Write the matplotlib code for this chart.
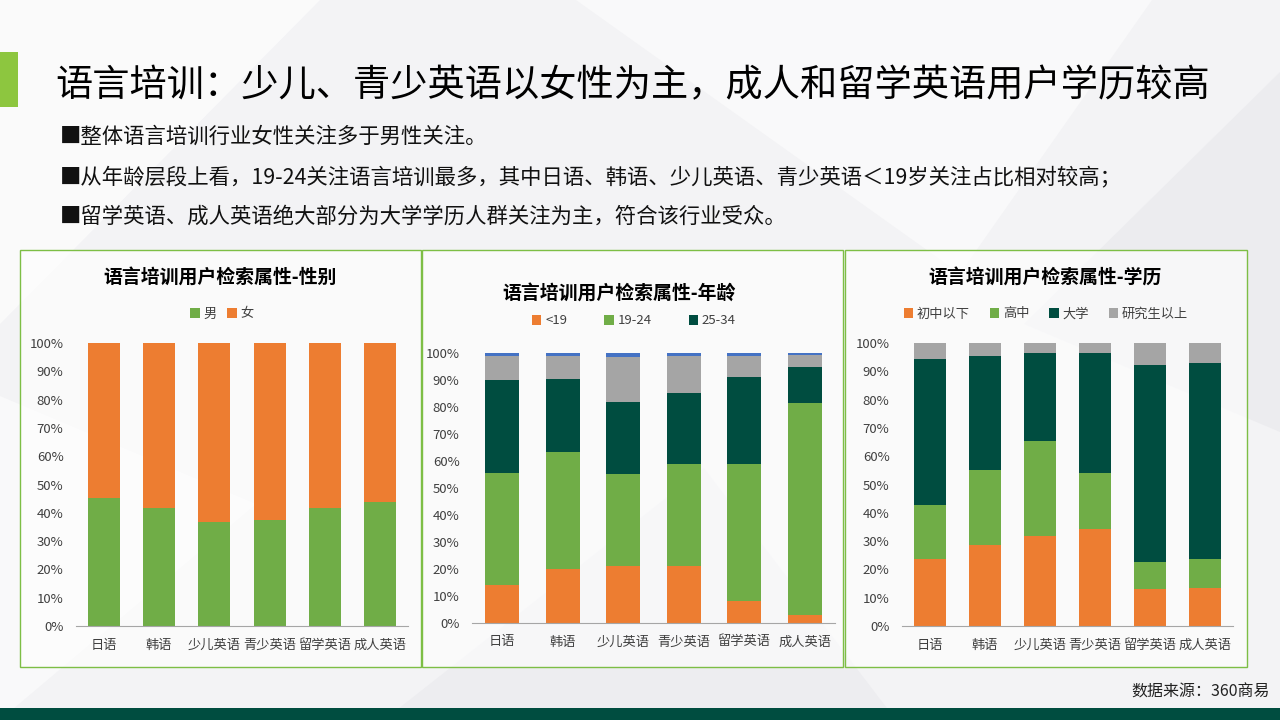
import numpy as np
import matplotlib
matplotlib.use('Agg')
import matplotlib.pyplot as plt
from matplotlib.patches import Rectangle, Polygon, Patch

plt.rcParams['font.family'] = ['Noto Sans CJK SC', 'DejaVu Sans']

categories = ['日语', '韩语', '少儿英语', '青少英语', '留学英语', '成人英语']

# 性别 (%)
male = [45.3, 41.8, 36.8, 37.5, 41.8, 43.9]
female = [54.7, 58.2, 63.2, 62.5, 58.2, 56.1]

# 年龄 (%)
age_u19 = [14.1, 20.0, 21.2, 21.2, 8.1, 3.0]
age_19_24 = [41.5, 43.3, 34.0, 37.7, 50.8, 78.5]
age_25_34 = [34.4, 27.1, 26.7, 26.3, 32.2, 13.3]
age_35_44 = [8.9, 8.5, 16.6, 13.7, 7.8, 4.5]
age_45_up = [1.1, 1.1, 1.5, 1.1, 1.1, 0.7]

# 学历 (%)
edu_junior = [23.6, 28.6, 31.9, 34.2, 13.1, 13.5]
edu_high = [19.1, 26.5, 33.4, 19.8, 9.5, 10.1]
edu_college = [51.5, 40.2, 31.1, 42.4, 69.5, 69.2]
edu_master = [5.8, 4.7, 3.6, 3.6, 7.9, 7.2]

ORANGE = '#ED7D31'
GREEN = '#70AD47'
DARK = '#004D40'
GRAY = '#A5A5A5'
BLUE = '#4472C4'
W, H = 1280, 720


def fx(x):
    return x / W


def fy(y):
    return 1 - y / H


fig = plt.figure(figsize=(12.8, 7.2), dpi=100)
fig.patch.set_facecolor('#F3F3F5')

# faint background facets
for pts, c, a in [
    ([(0, 0.55), (0.25, 1), (0, 1)], 'white', 0.6),
    ([(0.45, 1), (0.75, 0.62), (0.9, 1)], 'white', 0.5),
    ([(0.8, 0.55), (1, 0.9), (1, 0.4)], '#E6E6EA', 0.5),
    ([(0.3, 0.0), (0.55, 0.35), (0.7, 0.0)], '#E9E9ED', 0.6),
    ([(0.0, 0.0), (0.2, 0.3), (0.0, 0.45)], 'white', 0.5),
]:
    fig.patches.append(Polygon(pts, closed=True, transform=fig.transFigure,
                               facecolor=c, alpha=a, edgecolor='none', zorder=-10))

# green accent and bottom bar
fig.patches.append(Rectangle((0, fy(107)), fx(18), 55 / H, transform=fig.transFigure,
                             facecolor='#8DC63F', edgecolor='none', zorder=-5))
fig.patches.append(Rectangle((0, 0), 1, 12 / H, transform=fig.transFigure,
                             facecolor='#004D40', edgecolor='none', zorder=-5))

fig.text(fx(55), fy(86), '语言培训：少儿、青少英语以女性为主，成人和留学英语用户学历较高',
         fontsize=26.8, color='black', va='center', ha='left')
bullets = ['■整体语言培训行业女性关注多于男性关注。',
           '■从年龄层段上看，19-24关注语言培训最多，其中日语、韩语、少儿英语、青少英语＜19岁关注占比相对较高；',
           '■留学英语、成人英语绝大部分为大学学历人群关注为主，符合该行业受众。']
for t, y in zip(bullets, [137, 177, 217]):
    fig.text(fx(60), fy(y), t, fontsize=15.4, color='#111111', va='center', ha='left')

fig.text(fx(1270), fy(692), '数据来源：360商易', fontsize=11.5, color='#222222',
         ha='right', va='center')

# panels
for x0, x1 in [(20, 421), (422, 843), (845, 1247)]:
    fig.patches.append(Rectangle((fx(x0), fy(667)), fx(x1 - x0), 417 / H,
                                 transform=fig.transFigure, facecolor='white',
                                 alpha=0.6, edgecolor='none', zorder=-4))
    fig.patches.append(Rectangle((fx(x0), fy(667)), fx(x1 - x0), 417 / H,
                                 transform=fig.transFigure, facecolor='none',
                                 edgecolor='#7DBE45', lw=1.0, zorder=-3))


def make_axes(left, right, top, bottom):
    ax = fig.add_axes([fx(left), fy(bottom), fx(right - left), (bottom - top) / H])
    ax.set_facecolor('none')
    for s in ['top', 'right', 'left']:
        ax.spines[s].set_visible(False)
    ax.spines['bottom'].set_color('#A6A6A6')
    ax.tick_params(length=0, labelsize=9.5, labelcolor='#404040')
    ax.tick_params(axis='y', pad=9)
    ax.tick_params(axis='x', pad=9)
    ax.set_ylim(0, 1)
    ax.set_xlim(-0.5, 5.5)
    ax.set_yticks(np.arange(0, 1.01, 0.1))
    ax.set_yticklabels(['%d%%' % v for v in range(0, 101, 10)])
    return ax


def stacked(ax, series, colors, width):
    x = np.arange(len(categories))
    bottom = np.zeros(len(categories))
    for vals, c in zip(series, colors):
        v = np.array(vals) / 100
        ax.bar(x, v, width, bottom=bottom, color=c, zorder=2)
        bottom += v
    ax.set_xticks(x)
    ax.set_xticklabels(categories)


def legend(labels, colors, cx, cy, spacing):
    handles = [Patch(facecolor=c, label=l) for l, c in zip(labels, colors)]
    fig.legend(handles=handles, loc='center', bbox_to_anchor=(fx(cx), fy(cy)),
               ncol=len(labels), frameon=False, fontsize=9.5, handlelength=0.7,
               handleheight=0.7, handletextpad=0.3, columnspacing=spacing,
               labelcolor='#404040')


# chart 1 gender
ax1 = make_axes(76, 408, 343, 626)
stacked(ax1, [male, female], [GREEN, ORANGE], 0.58)
fig.text(fx(220), fy(277), '语言培训用户检索属性-性别', fontsize=13.6, fontweight='bold',
         ha='center', va='center')
legend(['男', '女'], [GREEN, ORANGE], 222, 314, 0.8)

# chart 2 age
ax2 = make_axes(472, 835, 353, 623)
stacked(ax2, [age_u19, age_19_24, age_25_34, age_35_44, age_45_up],
        [ORANGE, GREEN, DARK, GRAY, BLUE], 0.56)
fig.text(fx(619), fy(293), '语言培训用户检索属性-年龄', fontsize=13.6, fontweight='bold',
         ha='center', va='center')
legend(['<19', '19-24', '25-34'], [ORANGE, GREEN, DARK], 634, 321, 2.8)

# chart 3 education
ax3 = make_axes(902, 1233, 343, 626)
stacked(ax3, [edu_junior, edu_high, edu_college, edu_master],
        [ORANGE, GREEN, DARK, GRAY], 0.58)
fig.text(fx(1045), fy(277), '语言培训用户检索属性-学历', fontsize=13.6, fontweight='bold',
         ha='center', va='center')
legend(['初中以下', '高中', '大学', '研究生以上'], [ORANGE, GREEN, DARK, GRAY], 1046, 314, 1.5)

fig.savefig('out.png', dpi=100, facecolor=fig.get_facecolor())
